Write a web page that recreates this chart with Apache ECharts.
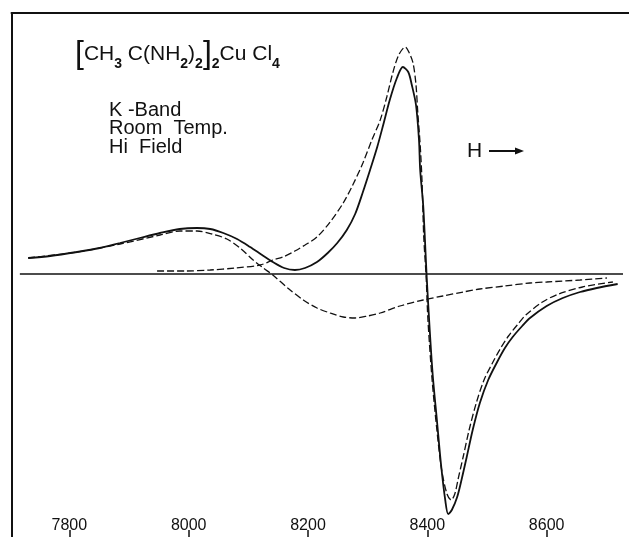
<!DOCTYPE html>
<html>
<head>
<meta charset="utf-8">
<script src="https://cdn.jsdelivr.net/npm/echarts@6/dist/echarts.min.js"></script>
<style>
html,body{margin:0;padding:0;background:#fff;}
#chart{width:629px;height:537px;}
</style>
</head>
<body>
<div id="chart"></div>
<script>
// Magnetic field H (gauss) tick labels
const fieldTicks = [7800, 8000, 8200, 8400, 8600];

// Observed spectrum (solid)
const solidX = [7731,7768,7813,7851,7885,7918,7952,7985,8014,8036,8058,8081,8103,8123,8141,8160,8178,8195,8215,8233,8249,8265,8279,8292,8304,8316,8326,8337,8349,8359,8368,8374,8381,8386,8388,8393,8396,8399,8404,8409,8416,8423,8430,8435,8441,8450,8458,8466,8476,8488,8502,8517,8530,8543,8559,8572,8600,8627,8656,8684,8719];
const solidY = [16,18,22,26,31,36,41,45,46,45,41,35,27,19,12,6,4,6,12,21,31,44,60,82,104,127,149,174,196,207,202,189,169,134,104,69,34,-4,-56,-101,-146,-191,-226,-240,-236,-223,-204,-183,-156,-129,-106,-88,-74,-63,-52,-44,-32,-24,-18,-14,-10];

// Low-field component (dashed)
const lowX = [7731,7813,7885,7952,7985,8014,8039,8064,8086,8108,8125,8141,8166,8192,8215,8237,8259,8279,8300,8321,8354,8393,8426,8460,8488,8530,8572,8600,8656,8701];
const lowY = [16,22,30,39,43,43,40,35,26,14,6,-1,-14,-26,-34,-39,-43,-44,-42,-39,-32,-26,-22,-18,-15,-12,-9,-8,-6,-4];

// High-field component (dashed)
const highX = [7947,7994,8036,8078,8120,8141,8158,8178,8195,8215,8237,8259,8275,8292,8307,8321,8332,8342,8352,8363,8369,8376,8381,8384,8388,8391,8394,8398,8401,8408,8416,8424,8433,8440,8446,8452,8460,8470,8482,8495,8510,8523,8536,8552,8565,8593,8620,8660,8711];
const highY = [3,3,4,6,9,14,17,23,29,37,52,71,89,111,134,154,177,201,219,227,222,211,189,161,129,94,37,-3,-46,-106,-156,-196,-220,-226,-220,-204,-183,-156,-129,-106,-88,-74,-62,-50,-41,-28,-20,-13,-8];

// Zero baseline
const baseX = [7717, 8728];
const baseY = [0, 0];

const zip = (xs, ys) => xs.map((x, i) => [x, ys[i]]);

const chart = echarts.init(document.getElementById('chart'), null, {renderer: 'canvas'});
const ink = '#111';
const FONT = '"Liberation Sans", Arial, sans-serif';

chart.setOption({
  animation: false,
  backgroundColor: '#fff',
  grid: {left: 11.5, right: 0, top: 13, bottom: 0, containLabel: false},
  xAxis: [{
    type: 'value', min: 7703, max: 8738, position: 'bottom',
    axisLine: {show: false, onZero: false},
    splitLine: {show: false},
    axisTick: {show: true, inside: true, length: 7, customValues: fieldTicks, lineStyle: {color: ink, width: 1.5}},
    axisLabel: {show: true, inside: true, margin: 3, customValues: fieldTicks, color: ink, fontSize: 16, fontFamily: FONT,
      formatter: v => String(v)}
  }, {
    type: 'value', min: 7703, max: 8738, position: 'top',
    axisLine: {show: true, onZero: false, lineStyle: {color: ink, width: 2}},
    axisTick: {show: false}, axisLabel: {show: false}, splitLine: {show: false}
  }],
  yAxis: {
    type: 'value', min: -263, max: 261,
    axisLine: {show: true, onZero: false, lineStyle: {color: ink, width: 2}},
    axisTick: {show: false}, axisLabel: {show: false}, splitLine: {show: false}
  },
  series: [
    {type: 'line', data: zip(baseX, baseY), showSymbol: false, lineStyle: {color: ink, width: 1.5}},
    {type: 'line', data: zip(lowX, lowY), showSymbol: false, smooth: 0.3, lineStyle: {color: ink, width: 1.3, type: [7, 3]}},
    {type: 'line', data: zip(highX, highY), showSymbol: false, smooth: 0.3, lineStyle: {color: ink, width: 1.3, type: [7, 3]}},
    {type: 'line', data: zip(solidX, solidY), showSymbol: false, smooth: 0.3, lineStyle: {color: ink, width: 1.8}}
  ],
  graphic: [
    {type: 'text', left: 75, top: 38, style: {
      text: '{b|[}{n|CH}{s|3}{n| C(NH}{s|2}{n|)}{s|2}{b|]}{s|2}{n|Cu Cl}{s|4}',
      fill: ink,
      rich: {
        b: {fontSize: 32, fontFamily: FONT, fontWeight: 'lighter', verticalAlign: 'middle', lineHeight: 34},
        n: {fontSize: 21, fontFamily: FONT, verticalAlign: 'middle'},
        s: {fontSize: 14, fontFamily: FONT, fontWeight: 'bold', verticalAlign: 'bottom', padding: [10, 0, 0, 0]}
      }
    }},
    {type: 'text', x: 109, y: 110, style: {text: 'K -Band', font: '20px ' + FONT, fill: ink, textVerticalAlign: 'middle'}},
    {type: 'text', x: 109, y: 128.5, style: {text: 'Room  Temp.', font: '20px ' + FONT, fill: ink, textVerticalAlign: 'middle'}},
    {type: 'text', x: 109, y: 147, style: {text: 'Hi  Field', font: '20px ' + FONT, fill: ink, textVerticalAlign: 'middle'}},
    {type: 'text', x: 467, y: 151, style: {text: 'H', font: '21px ' + FONT, fill: ink, textVerticalAlign: 'middle'}},
    {type: 'line', shape: {x1: 489, y1: 151, x2: 517, y2: 151}, style: {stroke: ink, lineWidth: 2}},
    {type: 'polygon', shape: {points: [[515, 147.5], [524, 151], [515, 154.5]]}, style: {fill: ink}}
  ]
});
</script>
</body>
</html>
